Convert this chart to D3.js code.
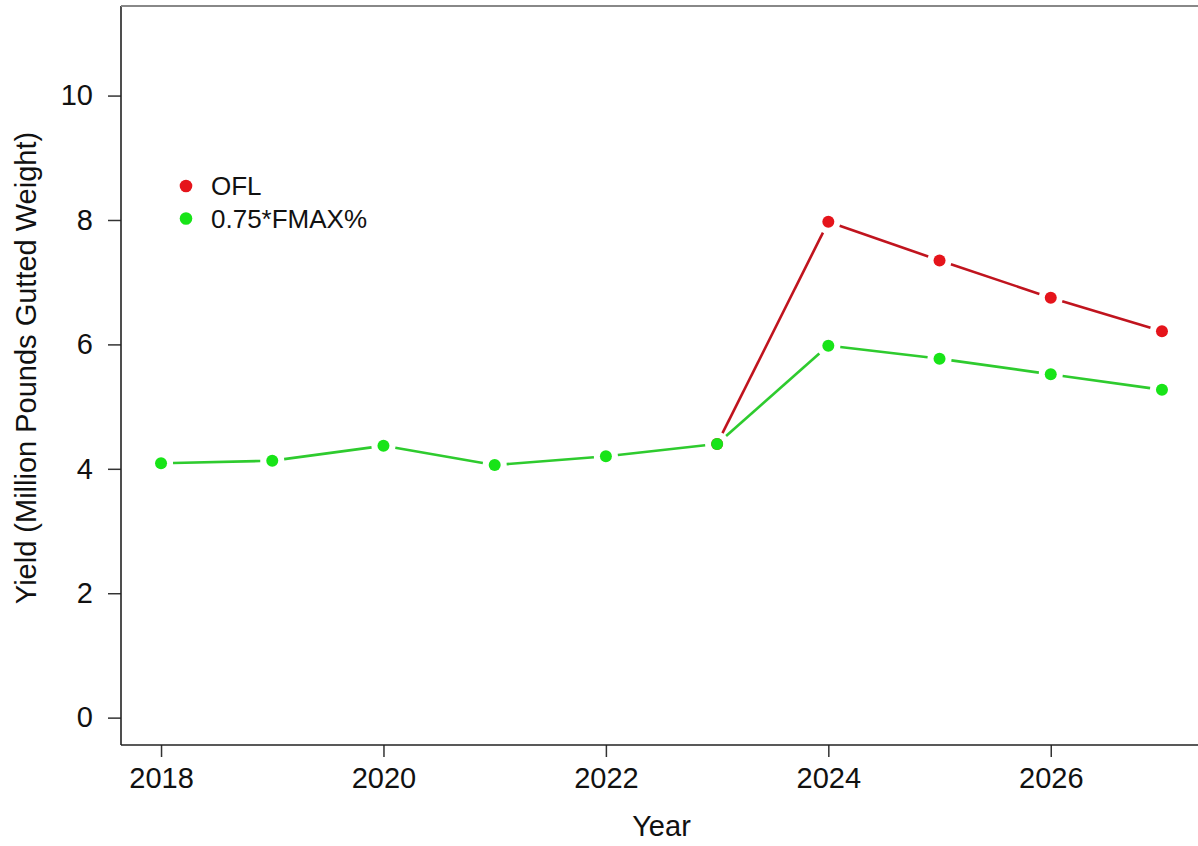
<!DOCTYPE html>
<html>
<head>
<meta charset="utf-8">
<script src="https://cdn.jsdelivr.net/npm/d3@7"></script>
<style>
  html, body { margin: 0; padding: 0; background: #fff; }
  svg { display: block; font-family: "Liberation Sans", Arial, sans-serif; }
</style>
</head>
<body>
<svg id="chart" width="1198" height="846"></svg>
<script>
// ---- data ----
const years = [2018, 2019, 2020, 2021, 2022, 2023, 2024, 2025, 2026, 2027];
const oflValues = [null, null, null, null, null, 4.40, 7.97, 7.35, 6.75, 6.21];
const fmaxValues = [4.09, 4.13, 4.37, 4.06, 4.20, 4.40, 5.98, 5.77, 5.52, 5.27];
const yTicks = [0, 2, 4, 6, 8, 10];
const xTicks = [2018, 2020, 2022, 2024, 2026];
const seriesNames = ["OFL", "0.75*FMAX%"];

(function () {
// ---- layout ----
const svg = d3.select("#chart");
const pLeft = 121, pRight = 1202, pTop = 6, pBottom = 745;

const x = d3.scaleLinear().domain([2017.64, 2027.36]).range([pLeft, pRight]);
const y = d3.scaleLinear().domain([-0.44, 11.44]).range([pBottom, pTop]);

const series = [
  { name: seriesNames[0], values: oflValues, point: "#e5141b", line: "#c0141e" },
  { name: seriesNames[1], values: fmaxValues, point: "#18e418", line: "#2ecb2e" }
];

// axes
const yAxis = d3.axisLeft(y).tickValues(yTicks).tickFormat(d3.format("d"))
  .tickSize(13).tickPadding(15).tickSizeOuter(0);
const xAxis = d3.axisBottom(x).tickValues(xTicks).tickFormat(d3.format("d"))
  .tickSize(12).tickPadding(10).tickSizeOuter(0);

const gy = svg.append("g").attr("transform", `translate(${pLeft},0)`).call(yAxis);
const gx = svg.append("g").attr("transform", `translate(0,${pBottom})`).call(xAxis);
[gx, gy].forEach(g => {
  g.select(".domain").remove();
  g.selectAll(".tick line").attr("stroke", "#333").attr("stroke-width", 1.5);
  g.selectAll(".tick text").attr("font-size", 29).attr("fill", "#111")
    .attr("font-family", "'Liberation Sans', Arial, sans-serif");
});

// box
svg.append("line").attr("x1", pLeft).attr("x2", pLeft).attr("y1", pTop).attr("y2", pBottom)
  .attr("stroke", "#222").attr("stroke-width", 1.6);
svg.append("line").attr("x1", pLeft).attr("x2", pRight).attr("y1", pBottom).attr("y2", pBottom)
  .attr("stroke", "#222").attr("stroke-width", 1.6);
svg.append("line").attr("x1", pLeft).attr("x2", pRight).attr("y1", pTop).attr("y2", pTop)
  .attr("stroke", "#888").attr("stroke-width", 2.2);

// series, type "b": segments with gaps around points
const gap = 12;
series.forEach(s => {
  const pts = years.map((yr, i) => ({ yr, v: s.values[i] }))
    .filter(d => d.v !== null)
    .map(d => ({ px: x(d.yr), py: y(d.v) }));
  const g = svg.append("g");
  for (let i = 0; i < pts.length - 1; i++) {
    const a = pts[i], b = pts[i + 1];
    const dx = b.px - a.px, dy = b.py - a.py;
    const len = Math.hypot(dx, dy);
    if (len <= 2 * gap) continue;
    const ux = dx / len, uy = dy / len;
    g.append("line")
      .attr("x1", a.px + ux * gap).attr("y1", a.py + uy * gap)
      .attr("x2", b.px - ux * gap).attr("y2", b.py - uy * gap)
      .attr("stroke", s.line).attr("stroke-width", 2.6);
  }
  g.selectAll("circle").data(pts).join("circle")
    .attr("cx", d => d.px).attr("cy", d => d.py).attr("r", 6)
    .attr("fill", s.point);
});

// legend
const legend = svg.append("g");
series.forEach((s, i) => {
  const cy = 186 + i * 32.5;
  legend.append("circle").attr("cx", 186).attr("cy", cy).attr("r", 6.3).attr("fill", s.point);
  legend.append("text").attr("x", 211).attr("y", cy).attr("dy", "0.36em")
    .attr("font-size", 26).attr("fill", "#111").text(s.name);
});

// axis titles
svg.append("text").attr("x", (pLeft + pRight) / 2).attr("y", 836)
  .attr("text-anchor", "middle").attr("font-size", 29).attr("fill", "#111").text("Year");
svg.append("text").attr("transform", `translate(36,368) rotate(-90)`)
  .attr("text-anchor", "middle").attr("font-size", 29).attr("fill", "#111")
  .text("Yield (Million Pounds Gutted Weight)");
})();
</script>
</body>
</html>
